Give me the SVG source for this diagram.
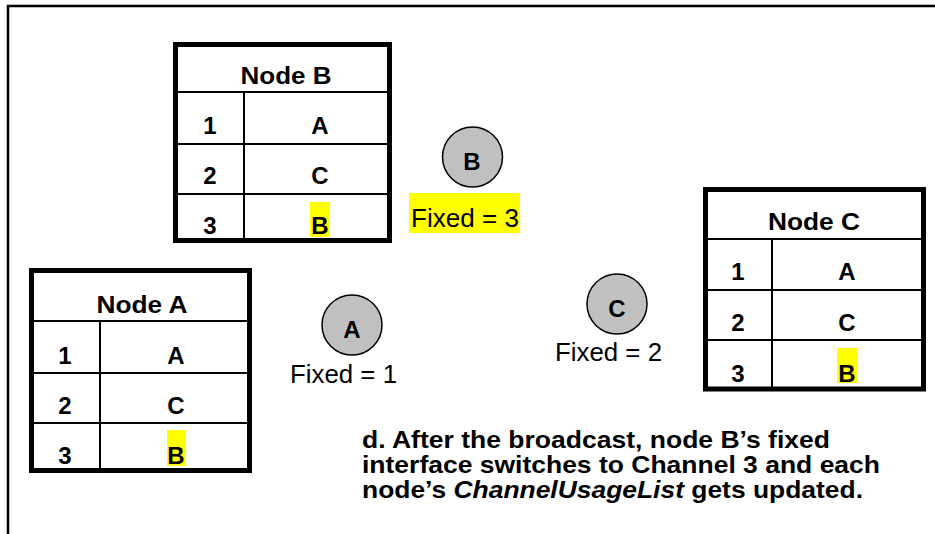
<svg xmlns="http://www.w3.org/2000/svg" width="935" height="534" viewBox="0 0 935 534">
<style>
.frame{fill:none;stroke:#000;stroke-width:2.5}
.tbl{fill:#fff;stroke:#000;stroke-width:5}
.ln{stroke:#000;stroke-width:2}
.hl{fill:#ffff00}
.t{font-family:"Liberation Sans",Arial,sans-serif;font-weight:bold;font-size:24px;fill:#000;text-anchor:middle}
.c{fill:#c0c0c0;stroke:#000;stroke-width:1.5}
.cl{font-family:"Liberation Sans",Arial,sans-serif;font-weight:bold;font-size:24px;fill:#000;text-anchor:middle}
.f{font-family:"Liberation Sans",Arial,sans-serif;font-size:26px;fill:#000}
.cap{font-family:"Liberation Sans",Arial,sans-serif;font-weight:bold;font-size:24px;fill:#000}
</style>
<rect width="935" height="534" fill="#fff"/>
<path class="frame" d="M8 534 V6 H935"/>

<g id="nodeB-table">
<rect class="tbl" x="175.5" y="44.5" width="214" height="196"/>
<line class="ln" x1="175" y1="92" x2="390" y2="92"/>
<line class="ln" x1="175" y1="144" x2="390" y2="144"/>
<line class="ln" x1="175" y1="194" x2="390" y2="194"/>
<line class="ln" x1="244" y1="92" x2="244" y2="240"/>
<rect class="hl" x="310" y="202" width="20" height="35"/>
<text class="t" x="286" y="84" textLength="91" lengthAdjust="spacingAndGlyphs">Node B</text>
<text class="t" x="210" y="134">1</text>
<text class="t" x="320" y="134">A</text>
<text class="t" x="210" y="184">2</text>
<text class="t" x="320" y="184">C</text>
<text class="t" x="210" y="234">3</text>
<text class="t" x="320" y="234">B</text>
</g>

<g id="nodeA-table">
<rect class="tbl" x="31.5" y="270.5" width="218" height="200"/>
<line class="ln" x1="32" y1="321" x2="249" y2="321"/>
<line class="ln" x1="32" y1="373" x2="249" y2="373"/>
<line class="ln" x1="32" y1="423" x2="249" y2="423"/>
<line class="ln" x1="100" y1="321" x2="100" y2="470"/>
<rect class="hl" x="167" y="430" width="19" height="36"/>
<text class="t" x="142" y="313" textLength="91" lengthAdjust="spacingAndGlyphs">Node A</text>
<text class="t" x="65" y="364">1</text>
<text class="t" x="176" y="364">A</text>
<text class="t" x="65" y="414">2</text>
<text class="t" x="176" y="414">C</text>
<text class="t" x="65" y="464">3</text>
<text class="t" x="176" y="464">B</text>
</g>

<g id="nodeC-table">
<rect class="tbl" x="705.5" y="189.5" width="218" height="199.5"/>
<line class="ln" x1="706" y1="239" x2="923" y2="239"/>
<line class="ln" x1="706" y1="290" x2="923" y2="290"/>
<line class="ln" x1="706" y1="340" x2="923" y2="340"/>
<line class="ln" x1="772" y1="239" x2="772" y2="389"/>
<rect class="hl" x="837" y="348" width="20" height="35"/>
<text class="t" x="814" y="230" textLength="92" lengthAdjust="spacingAndGlyphs">Node C</text>
<text class="t" x="738" y="280">1</text>
<text class="t" x="847" y="280">A</text>
<text class="t" x="738" y="331">2</text>
<text class="t" x="847" y="331">C</text>
<text class="t" x="738" y="382">3</text>
<text class="t" x="847" y="382">B</text>
</g>

<g id="node-B">
<circle class="c" cx="472.5" cy="157" r="30"/>
<text class="cl" x="472" y="170">B</text>
<rect class="hl" x="409" y="193" width="111" height="40"/>
<text class="f" x="411" y="227" textLength="108" lengthAdjust="spacingAndGlyphs">Fixed = 3</text>
</g>

<g id="node-A">
<circle class="c" cx="352" cy="325" r="30"/>
<text class="cl" x="352" y="338">A</text>
<text class="f" x="290" y="383" textLength="107" lengthAdjust="spacingAndGlyphs">Fixed = 1</text>
</g>

<g id="node-C">
<circle class="c" cx="617" cy="304" r="30"/>
<text class="cl" x="617" y="317">C</text>
<text class="f" x="555" y="361" textLength="107" lengthAdjust="spacingAndGlyphs">Fixed = 2</text>
</g>

<g id="connectors"></g>

<g id="caption">
<text class="cap" x="362" y="448" textLength="468" lengthAdjust="spacingAndGlyphs">d. After the broadcast, node B’s fixed</text>
<text class="cap" x="362" y="473" textLength="518" lengthAdjust="spacingAndGlyphs">interface switches to Channel 3 and each</text>
<text class="cap" x="362" y="498" textLength="501" lengthAdjust="spacingAndGlyphs">node’s <tspan font-style="italic">ChannelUsageList</tspan> gets updated.</text>
</g>
</svg>
